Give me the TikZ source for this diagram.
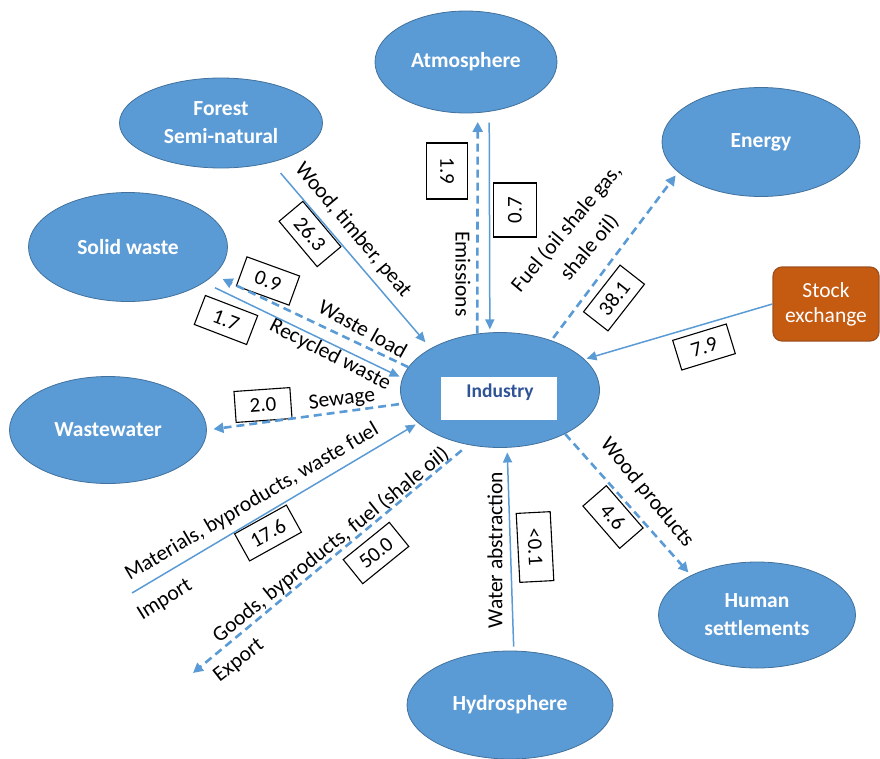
\documentclass[tikz,border=0pt]{standalone}
\usepackage{fontspec}
\setmainfont{Carlito}
\usetikzlibrary{shapes.geometric,arrows.meta}
\definecolor{nodeblue}{HTML}{5B9BD5}
\definecolor{nodeedge}{HTML}{41719C}
\definecolor{stockfill}{HTML}{C55A11}
\definecolor{stockedge}{HTML}{A0501E}
\definecolor{inddark}{HTML}{2F5496}
\begin{document}
\begin{tikzpicture}[x=1pt,y=-1pt,
  realm/.style={ellipse, draw=nodeedge, line width=0.8pt, fill=nodeblue, text=white,
    inner sep=0pt, font=\bfseries\fontsize{21.5}{28}\selectfont, align=center},
  valbox/.style={draw=black, line width=1.1pt, inner xsep=11pt, inner ysep=0pt,
    minimum width=56pt, minimum height=31pt, font=\fontsize{21}{24}\selectfont},
  flowlabel/.style={font=\fontsize{21.5}{30}\selectfont, inner sep=0pt, align=center},
  solidflow/.style={draw=nodeblue, line width=1.5pt, -{Triangle[length=10pt,width=9pt]}},
  dashflow/.style={draw=nodeblue, line width=2.6pt, dash pattern=on 8pt off 5pt,
    -{Triangle[length=10pt,width=10pt]}},
]
\useasboundingbox (0,0) rectangle (880,758);

% compartments
\node[realm, minimum width=182pt, minimum height=102pt] (atmo) at (466,62) {Atmosphere};
\node[realm, minimum width=203pt, minimum height=90pt] (forest) at (221,123) {Forest\\Semi-natural};
\node[realm, minimum width=198pt, minimum height=109pt] (energy) at (761,142) {Energy};
\node[realm, minimum width=199pt, minimum height=109pt] (solid) at (128,247) {Solid waste};
\node[realm, minimum width=197pt, minimum height=107pt] (wwater) at (108,430) {Wastewater};
\node[realm, minimum width=197pt, minimum height=106pt] (human) at (757,615) {Human\\settlements};
\node[realm, minimum width=206pt, minimum height=108pt] (hydro) at (510,705) {Hydrosphere};
\node[realm, minimum width=199pt, minimum height=115pt] (industry) at (500,390) {};
\node[fill=white, minimum width=116pt, minimum height=43pt, inner sep=0pt] (indbox) at (499,398.5) {};
\node[text=inddark, font=\bfseries\fontsize{19.5}{24}\selectfont, inner sep=0pt] (indtext) at (500,392) {Industry};
\node[rounded corners=9pt, draw=stockedge, fill=stockfill, text=white, line width=1.2pt,
  minimum width=106pt, minimum height=74pt, inner sep=0pt, align=center,
  font=\fontsize{21.5}{25}\selectfont] (stock) at (826,304) {Stock\\exchange};

% flow labels and values
\node[flowlabel, rotate=-50] (lwood) at (353,230) {Wood, timber, peat};
\node[valbox, rotate=-50] (v263) at (310,234) {26.3};
\node[flowlabel, rotate=-29] (lwaste) at (363,328.5) {Waste load};
\node[valbox, rotate=-20] (v09) at (268,281) {0.9};
\node[flowlabel, rotate=-27] (lrecyc) at (330,355) {Recycled waste};
\node[valbox, rotate=-21] (v17) at (226,320) {1.7};
\node[flowlabel, rotate=-90] (lemis) at (463,274) {Emissions};
\node[valbox, rotate=-90, minimum height=41pt] (v19) at (447,171) {1.9};
\node[valbox, rotate=90, minimum height=43pt, minimum width=54pt] (v07) at (515,210) {0.7};
\node[flowlabel, rotate=50] (lfuel) at (578,238) {Fuel (oil shale gas,\\shale oil)};
\node[valbox, rotate=52] (v381) at (614,298) {38.1};
\node[valbox, rotate=17] (v79) at (704,347) {7.9};
\node[flowlabel, rotate=7] (lsew) at (342,400) {Sewage};
\node[valbox, rotate=4] (v20) at (263,405) {2.0};
\node[flowlabel, rotate=30.5] (lmat) at (252,502) {Materials, byproducts, waste fuel};
\node[valbox, rotate=29] (v176) at (268,533) {17.6};
\node[flowlabel, rotate=32] (limp) at (165,600) {Import};
\node[flowlabel, rotate=39] (lgoods) at (331,545) {Goods, byproducts, fuel (shale oil)};
\node[valbox, rotate=39] (v500) at (376,553) {50.0};
\node[flowlabel, rotate=38] (lexp) at (239,661) {Export};
\node[flowlabel, rotate=90] (lwater) at (495,550) {Water abstraction};
\node[valbox, rotate=-87, minimum width=69pt, minimum height=34pt] (v01) at (535,547) {<0.1};
\node[flowlabel, rotate=-50.5] (lwoodp) at (647,493) {Wood products};
\node[valbox, rotate=-49] (v46) at (613,517) {4.6};

% flows
\coordinate (importfrom) at (132,593);
\coordinate (exportto) at (193,673);
\draw[solidflow, shorten <=14pt, shorten >=8pt] (forest.-38.9) -- (industry.149.6);
\draw[dashflow, shorten >=9.5pt] (industry.166.1) -- (solid.-18.1);
\draw[solidflow, shorten <=12pt, shorten >=3pt] (solid.-25.5) -- (industry.173.2);
\draw[dashflow, shorten >=9pt] (industry.112.4) -- (atmo.-77.7);
\draw[solidflow, shorten <=11pt, shorten >=3pt] (atmo.-65) -- (industry.100.9);
\draw[dashflow, shorten <=3pt, shorten >=4pt] (industry.44.7) -- (energy.200.7);
\draw[solidflow, shorten >=2pt] (stock.west) -- (industry.20.7);
\draw[dashflow, shorten <=4pt, shorten >=6.6pt] (industry.188.6) -- (wwater.-0.5);
\draw[solidflow, shorten >=2.7pt] (importfrom) -- (industry.202.6);
\draw[dashflow, shorten <=8.5pt] (industry.240) -- (exportto);
\draw[solidflow, shorten <=4pt, shorten >=4.7pt] (hydro.86.8) -- (industry.-83.2);
\draw[dashflow, shorten >=3.8pt] (industry.-34.5) -- (human.149.5);
\end{tikzpicture}
\end{document}
